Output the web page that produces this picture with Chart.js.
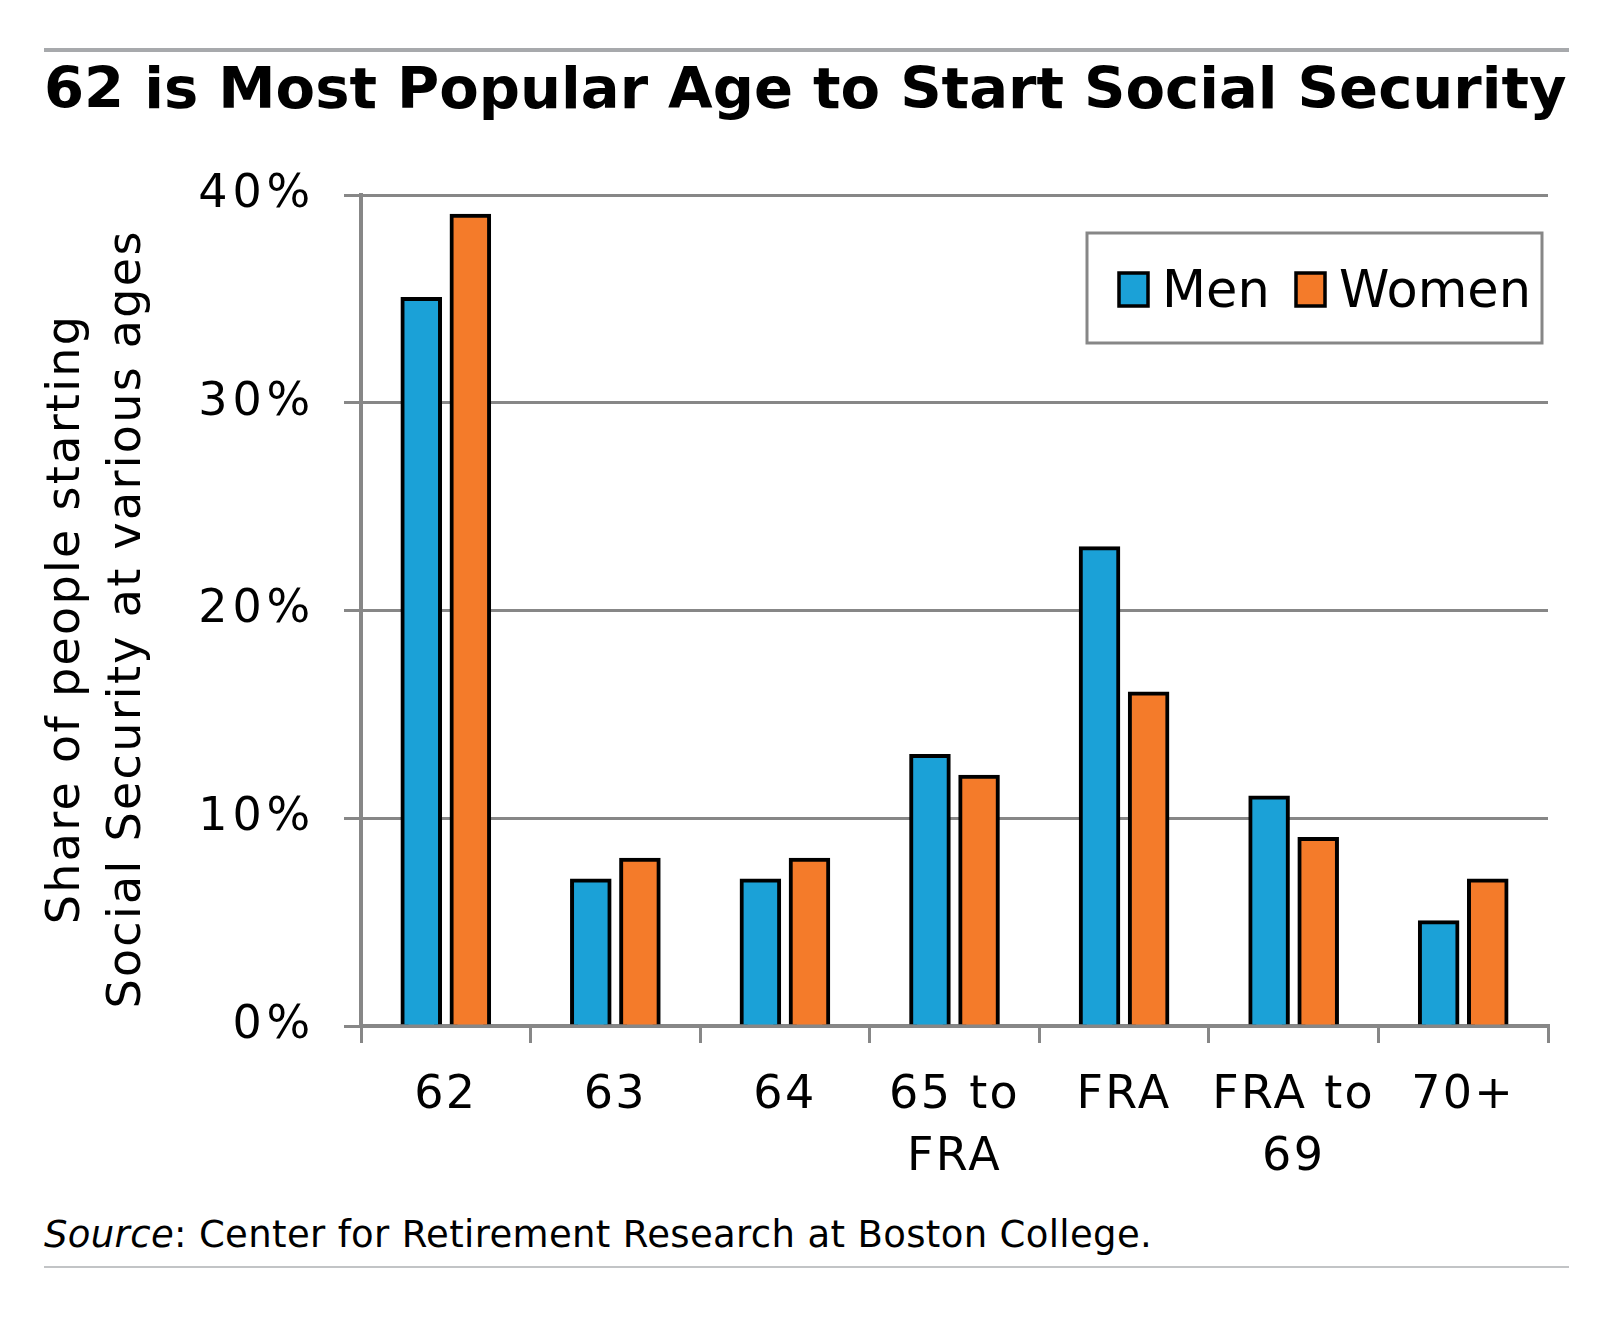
<!DOCTYPE html>
<html>
<head>
<meta charset="utf-8">
<script src="https://cdn.jsdelivr.net/npm/chart.js@4.4.1/dist/chart.umd.min.js"></script>
<style>
  body { margin:0; background:#fff; width:1621px; height:1327px; position:relative; overflow:hidden; font-family:"DejaVu Sans", sans-serif; }
  #chart { position:absolute; left:0; top:0; }
  .rule { position:absolute; left:44px; width:1525px; }
  #title { position:absolute; left:44px; top:54px; font-size:57.6px; line-height:70px; font-weight:bold; color:#000; white-space:nowrap; }
  #source { position:absolute; left:44px; top:1213px; font-size:37px; line-height:44px; letter-spacing:0.35px; color:#000; white-space:nowrap; }
</style>
</head>
<body>
<div class="rule" style="top:48px;height:4px;background:#a7a9ac;"></div>
<div id="title">62 is Most Popular Age to Start Social Security</div>
<canvas id="chart" width="1621" height="1200"></canvas>
<div id="source"><i>Source</i>: Center for Retirement Research at Boston College.</div>
<div class="rule" style="top:1266px;height:2px;background:#c2c4c6;"></div>
<script>
// data
const categories = ["62", "63", "64", ["65 to", "FRA"], "FRA", ["FRA to", "69"], "70+"];
const menValues = [35, 7, 7, 13, 23, 11, 5];
const womenValues = [39, 8, 8, 12, 16, 9, 7];
const seriesNames = ["Men", "Women"];
const yTicks = [0, 10, 20, 30, 40];

const blue = "#1ba1d7";
const orange = "#f47b2a";
const grey = "#878787";
const font = "'DejaVu Sans', sans-serif";

// the original font runs wider than DejaVu, so open the letters up a little
const spacing = {
  id: "spacing",
  afterLayout(chart) {
    [["x", "2.3px"], ["y", "4.8px"]].forEach(([id, ls]) => {
      const s = chart.scales[id];
      if (s._spaced) return;
      s._spaced = true;
      const dl = s.drawLabels.bind(s), dt = s.drawTitle.bind(s);
      s.drawLabels = function (a) { const c = this.ctx; c.save(); c.letterSpacing = ls; dl(a); c.restore(); };
      s.drawTitle = function () { const c = this.ctx; c.save(); c.letterSpacing = "2.3px"; dt(); c.restore(); };
    });
  }
};

// legend in a grey box, drawn inside the plot like the original
const legendBox = {
  id: "legendBox",
  afterDraw(chart) {
    const ctx = chart.ctx;
    ctx.save();
    ctx.strokeStyle = grey;
    ctx.lineWidth = 3;
    ctx.strokeRect(1087, 233, 455, 110);
    ctx.font = "51px " + font;
    ctx.textBaseline = "alphabetic";
    const xs = [1119, 1296];
    chart.data.datasets.forEach((ds, i) => {
      ctx.fillStyle = ds.backgroundColor;
      ctx.fillRect(xs[i], 273, 29, 33);
      ctx.strokeStyle = "#000";
      ctx.lineWidth = 3.5;
      ctx.strokeRect(xs[i], 273, 29, 33);
      ctx.fillStyle = "#000";
      ctx.fillText(ds.label, xs[i] + 43, 307);
    });
    ctx.restore();
  }
};

new Chart("chart", {
  type: "bar",
  data: {
    labels: categories,
    datasets: [{
      label: seriesNames[0],
      data: menValues,
      backgroundColor: blue,
      borderColor: "#000",
      borderWidth: 4,
      inflateAmount: 2
    }, {
      label: seriesNames[1],
      data: womenValues,
      backgroundColor: orange,
      borderColor: "#000",
      borderWidth: 4,
      inflateAmount: 2
    }]
  },
  options: {
    responsive: false,
    animation: false,
    categoryPercentage: 0.579,
    barPercentage: 0.765,
    layout: { padding: { top: 195, right: 73, bottom: 0, left: 0 } },
    plugins: { legend: { display: false }, tooltip: { enabled: false } },
    scales: {
      x: {
        z: 1,
        afterFit(scale) { scale.height = 174; },
        grid: { offset: true, drawOnChartArea: false, tickLength: 17, color: grey, lineWidth: 3 },
        border: { color: grey, width: 4 },
        ticks: { color: "#000", font: { family: font, size: 46, lineHeight: 1.35 }, padding: 22, maxRotation: 0, autoSkip: false }
      },
      y: {
        min: yTicks[0],
        max: yTicks[yTicks.length - 1],
        afterFit(scale) { scale.width = 361; },
        afterBuildTicks(scale) { scale.ticks = yTicks.map(v => ({ value: v })); },
        grid: { color: grey, lineWidth: 3, tickLength: 17 },
        border: { color: grey, width: 4 },
        ticks: { color: "#000", font: { family: font, size: 46 }, padding: 29, callback: v => v + "%" },
        title: {
          display: true,
          text: ["Share of people starting ", "Social Security at various ages "],
          color: "#000",
          font: { family: font, size: 46, lineHeight: 1.33 },
          padding: { top: 36, bottom: 0 }
        }
      }
    }
  },
  plugins: [spacing, legendBox]
});
</script>
</body>
</html>
